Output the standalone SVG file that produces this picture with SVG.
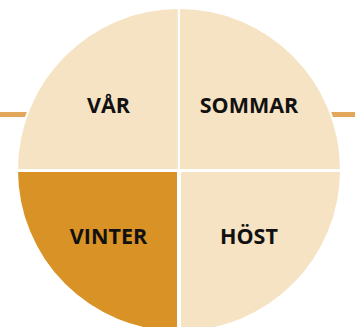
<svg xmlns="http://www.w3.org/2000/svg" width="361" height="327" viewBox="0 0 361 327">
  <defs>
    <clipPath id="disc"><circle cx="179" cy="170" r="161"/></clipPath>
    <style>
      .light { fill: #F5E3C3; }
      .dark { fill: #D89226; }
      .lbl { font-family: "Open Sans", "Noto Sans", sans-serif; font-weight: bold; font-size: 21.5px; fill: #111; text-anchor: middle; }
    </style>
  </defs>
  <rect width="361" height="327" fill="#FFFFFF"/>
  <g id="axis">
    <rect x="0" y="112" width="355" height="5" fill="#E2A75A"/>
    <circle cx="179" cy="170" r="163" fill="#FFFFFF"/>
  </g>
  <g clip-path="url(#disc)">
    <g id="var">
      <rect class="light" x="0" y="0" width="177.8" height="169"/>
      <text class="lbl" x="108.5" y="113">VÅR</text>
    </g>
    <g id="sommar">
      <rect class="light" x="180" y="0" width="181" height="169"/>
      <text class="lbl" x="249" y="113">SOMMAR</text>
    </g>
    <g id="vinter">
      <rect class="dark" x="0" y="172" width="177" height="155"/>
      <text class="lbl" x="108.5" y="244">VINTER</text>
    </g>
    <g id="host">
      <rect class="light" x="181" y="172" width="180" height="155"/>
      <text class="lbl" x="249" y="244">HÖST</text>
    </g>
  </g>
</svg>
